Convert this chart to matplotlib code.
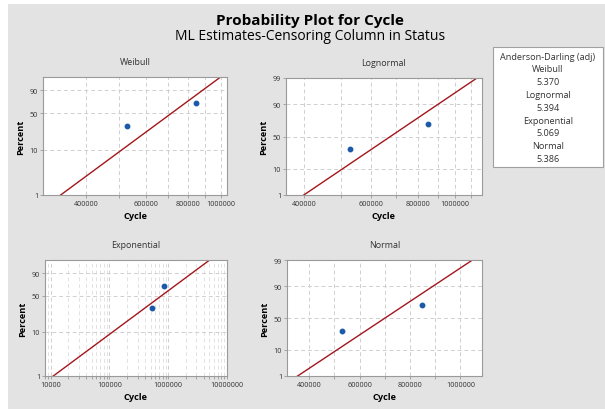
import math
from statistics import NormalDist

import matplotlib
matplotlib.use("Agg")
import matplotlib.pyplot as plt
import numpy as np
from matplotlib.patches import Rectangle
from matplotlib.ticker import FixedLocator, NullFormatter

# failure times and plotting positions (percent)
cycle_fail = [530000, 846000]
percent_fail = [30.7, 69.3]

# fitted (ML) parameters
weibull_shape = 5.63
weibull_scale = 762000
lognorm_loc = 13.423
lognorm_scale = 0.2253
expo_mean = 1101000
normal_mean = 700800
normal_sd = 149200

ad_names = ["Weibull", "Lognormal", "Exponential", "Normal"]
ad_values = ["5.370", "5.394", "5.069", "5.386"]

BG = "#e3e3e3"
TXT = "#333333"
GRID = "#cfcfcf"
SPINE = "#9a9a9a"
FIT = "#a3161c"
PT = "#1a5aa8"

plt.rcParams["font.family"] = ["Open Sans", "DejaVu Sans"]

_nd = NormalDist()
_ppf = np.vectorize(_nd.inv_cdf, otypes=[float])
_cdf = np.vectorize(_nd.cdf, otypes=[float])


def norm_fwd(pct):
    p = np.clip(np.asarray(pct, float) / 100.0, 1e-9, 1 - 1e-9)
    return _ppf(p)


def norm_inv(z):
    return _cdf(np.asarray(z, float)) * 100.0


def sev_fwd(pct):
    p = np.clip(np.asarray(pct, float) / 100.0, 1e-9, 1 - 1e-9)
    return np.log(-np.log(1 - p))


def sev_inv(w):
    return (1 - np.exp(-np.exp(np.asarray(w, float)))) * 100.0


W, H = 605, 410
fig = plt.figure(figsize=(W / 100, H / 100), dpi=100)
fig.patches.append(Rectangle((8 / W, 0), 1, 1 - 5 / H, transform=fig.transFigure,
                             facecolor=BG, edgecolor="none", zorder=-10))


def make_ax(x0, y0, x1, y1):
    return fig.add_axes([x0 / W, (H - y1) / H, (x1 - x0) / W, (y1 - y0) / H])


def style(ax, title, yticks, xticks, xlabels, xgrid, minor_color=GRID):
    ax.set_facecolor("white")
    for s in ax.spines.values():
        s.set_color(SPINE)
        s.set_linewidth(0.8)
    ax.set_yticks(yticks)
    ax.set_yticklabels([str(t) for t in yticks])
    ax.yaxis.set_minor_locator(FixedLocator([]))
    ax.xaxis.set_major_locator(FixedLocator(xticks))
    ax.set_xticklabels(xlabels)
    ax.xaxis.set_minor_locator(FixedLocator(xgrid))
    ax.xaxis.set_minor_formatter(NullFormatter())
    ax.tick_params(which="both", length=2, width=0.6, color=SPINE, labelsize=5.2,
                   labelcolor=TXT, pad=1.5)
    ax.grid(True, which="major", color=GRID, linestyle=(0, (4, 3)), linewidth=0.7)
    ax.grid(True, which="minor", axis="x", color=minor_color, linestyle=(0, (4, 3)), linewidth=0.7)
    ax.set_axisbelow(True)
    ax.set_title(title, fontsize=6.4, color=TXT, pad=9)
    ax.set_ylabel("Percent", fontsize=6.6, fontweight="bold", color="black", labelpad=3)
    ax.set_xlabel("Cycle", fontsize=6.6, fontweight="bold", color="black", labelpad=3)


line_pct = np.array([0.5, 99.5])
p = line_pct / 100

# Weibull
ax = make_ax(43, 78, 227, 196)
ax.set_xscale("log")
ax.set_yscale("function", functions=(sev_fwd, sev_inv))
ax.plot(weibull_scale * (-np.log(1 - p)) ** (1 / weibull_shape), line_pct, color=FIT, lw=1)
ax.plot(cycle_fail, percent_fail, "o", color=PT, ms=3.2)
ax.set_xlim(298500, 1044000)
ax.set_ylim(1, 99)
style(ax, "Weibull", [1, 10, 50, 90], [400000, 600000, 800000, 1000000],
      ["400000", "600000", "800000", "1000000"], [500000, 700000, 900000])

# Lognormal
ax = make_ax(286, 79, 482, 196)
ax.set_xscale("log")
ax.set_yscale("function", functions=(norm_fwd, norm_inv))
z = norm_fwd(line_pct)
ax.plot(np.exp(lognorm_loc + lognorm_scale * z), line_pct, color=FIT, lw=1)
ax.plot(cycle_fail, percent_fail, "o", color=PT, ms=3.2)
ax.set_xlim(359000, 1176000)
ax.set_ylim(1, 99)
style(ax, "Lognormal", [1, 10, 50, 90, 99], [400000, 600000, 800000, 1000000],
      ["400000", "600000", "800000", "1000000"], [500000, 700000, 900000, 1100000])

# Exponential
ax = make_ax(45, 261, 227, 377)
ax.set_xscale("log")
ax.set_yscale("function", functions=(sev_fwd, sev_inv))
ax.plot(-expo_mean * np.log(1 - p), line_pct, color=FIT, lw=1)
ax.plot(cycle_fail, percent_fail, "o", color=PT, ms=3.2)
ax.set_xlim(8000, 10000000)
ax.set_ylim(1, 99)
minors = [m * 10 ** e for e in range(3, 7) for m in range(2, 10)]
style(ax, "Exponential", [1, 10, 50, 90], [10000, 100000, 1000000, 10000000],
      ["10000", "100000", "1000000", "10000000"], minors, minor_color="#e2e2e2")
ax.set_xlim(8000, 10000000)

# Normal
ax = make_ax(287, 261, 482, 377)
ax.set_yscale("function", functions=(norm_fwd, norm_inv))
ax.plot(normal_mean + normal_sd * norm_fwd(line_pct), line_pct, color=FIT, lw=1)
ax.plot(cycle_fail, percent_fail, "o", color=PT, ms=3.2)
ax.set_xlim(311500, 1085700)
ax.set_ylim(1, 99)
style(ax, "Normal", [1, 10, 50, 90, 99], [400000, 600000, 800000, 1000000],
      ["400000", "600000", "800000", "1000000"], [500000, 700000, 900000])

# titles
fig.text(310 / W, 1 - 21 / H, "Probability Plot for Cycle", ha="center", va="center",
         fontsize=11, fontweight="bold", color="black")
fig.text(310 / W, 1 - 37 / H, "ML Estimates-Censoring Column in Status", ha="center",
         va="center", fontsize=10, color="black")

# Anderson-Darling box
fig.patches.append(Rectangle((493 / W, 1 - 168 / H), 110 / W, 120 / H, transform=fig.transFigure,
                             facecolor="white", edgecolor="#a0a0a0", linewidth=0.8))
lines = ["Anderson-Darling (adj)"]
for n, v in zip(ad_names, ad_values):
    lines += [n, v]
for i, t in enumerate(lines):
    fig.text(548 / W, 1 - (57 + 12.8 * i) / H, t, ha="center", va="center", fontsize=6.6, color=TXT)

fig.savefig("out.png", dpi=100, facecolor="white")
